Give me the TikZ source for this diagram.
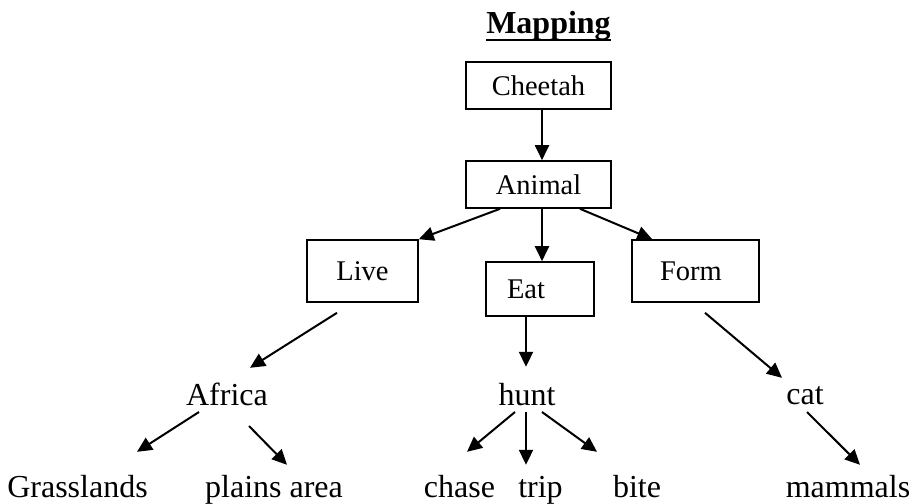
\documentclass[tikz,border=0pt]{standalone}
\usepackage{fontspec}
\setmainfont{Liberation Serif}
\usetikzlibrary{arrows.meta}
\begin{document}
\begin{tikzpicture}[x=1pt,y=-1pt,
  box/.style={draw,line width=1.6pt,inner sep=0pt,font=\fontsize{28.5}{30}\selectfont},
  word/.style={inner sep=0pt,anchor=base,text height=22pt,text depth=7pt,font=\fontsize{32}{34}\selectfont},
  arr/.style={line width=2pt,-{Triangle[length=15pt,width=14pt]}},
  uline/.style={line width=2.4pt}]
\useasboundingbox (0,0) rectangle (912,503);
% title
\node[inner sep=0pt,anchor=base,font=\bfseries\fontsize{32}{34}\selectfont] (title) at (548.5,34) {Mapping};
\draw[uline] ([shift={(0,6)}]title.base west) -- ([shift={(0,6)}]title.base east);
% boxes
\node[box,minimum width=145pt,minimum height=47pt] (cheetah) at (538.5,85.5) {Cheetah};
\node[box,minimum width=145pt,minimum height=47pt] (animal) at (538.5,184.5) {Animal};
\node[box,minimum width=111pt,minimum height=62pt] (live) at (362.5,271) {Live};
\node[box,minimum width=108pt,minimum height=54pt] (eat) at (540,289) {Eat\kern28pt};
\node[box,minimum width=127pt,minimum height=62pt] (form) at (695.5,271) {Form\kern9pt};
% words
\node[word] (africa) at (227,405) {Africa};
\node[word] (hunt) at (527,405) {hunt};
\node[word] (cat) at (805,404) {cat};
\node[word] (grass) at (77.5,497) {Grasslands};
\node[word] (plains) at (274,497) {plains area};
\node[word] (chase) at (459.5,497) {chase};
\node[word] (trip) at (540.5,497) {trip};
\node[word] (bite) at (637,497) {bite};
\node[word] (mammals) at (848,497) {mammals};
% arrows
\draw[arr] ([shift={(3.5,0)}]cheetah.south) -- ([shift={(3.5,0)}]animal.north);
\draw[arr] ([shift={(-38.5,0)}]animal.south) -- (live.north east);
\draw[arr] ([shift={(3.5,0)}]animal.south) -- ([shift={(2,0)}]eat.north);
\draw[arr] ([shift={(41.5,0)}]animal.south) -- ([shift={(21,0)}]form.north west);
\draw[arr] ([shift={(-25.5,10)}]live.south) -- ([shift={(23,-15)}]africa.north);
\draw[arr] ([shift={(-14,0)}]eat.south) -- ([shift={(-1,-16)}]hunt.north);
\draw[arr] ([shift={(9.5,10)}]form.south) -- ([shift={(-23,-4)}]cat.north);
\draw[arr] ([shift={(-28,7)}]africa.base) -- ([shift={(59.5,-23)}]grass.north);
\draw[arr] ([shift={(22,21)}]africa.base) -- ([shift={(13,-10)}]plains.north);
\draw[arr] ([shift={(-12,7)}]hunt.base) -- ([shift={(7.5,-23)}]chase.north);
\draw[arr] ([shift={(-1,7)}]hunt.base) -- ([shift={(-14.5,-10)}]trip.north);
\draw[arr] ([shift={(15,7)}]hunt.base) -- ([shift={(-40,-23)}]bite.north);
\draw[arr] ([shift={(2,8)}]cat.base) -- ([shift={(12,-10)}]mammals.north);
\end{tikzpicture}
\end{document}
